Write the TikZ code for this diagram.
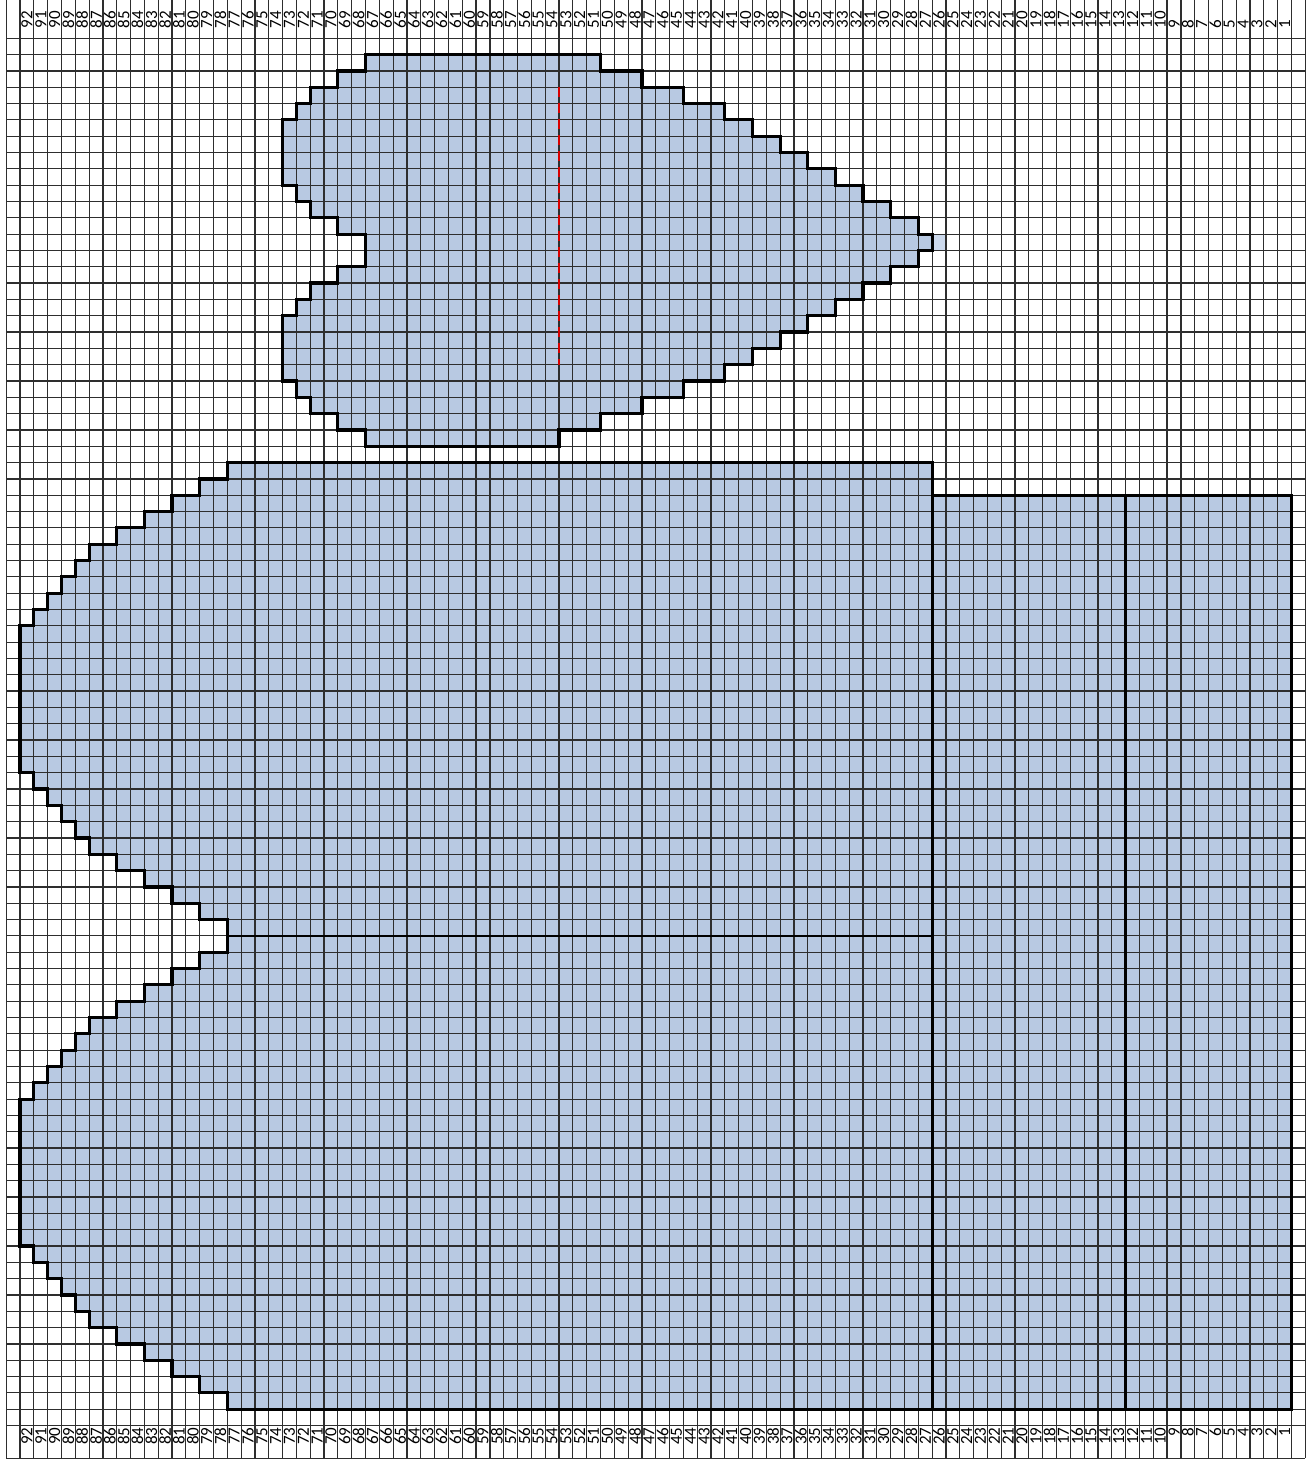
\documentclass[tikz,border=0pt]{standalone}
\usepackage{fontspec}
\newfontfamily\numfont{Carlito}
\definecolor{chartblue}{RGB}{184,201,226}
\definecolor{tipblue}{RGB}{204,217,236}

% start column of each row of the hand top, outer row first
\def\tipcols{16,14,12,10,8,6,5,4,3,2,1,1,1,1,1,1,1,1,1,2,3,4,5,6,8,10,12,14,16}

\newcommand\thumbpath{(26,1) -- (43,1) -- (43,2) -- (46,2) -- (46,3) -- (49,3) -- (49,4) -- (52,4)
  -- (52,5) -- (54,5) -- (54,6) -- (56,6) -- (56,7) -- (58,7) -- (58,8) -- (60,8) -- (60,9)
  -- (62,9) -- (62,10) -- (64,10) -- (64,11) -- (66,11) -- (66,12) -- (67,12) -- (67,13)
  -- (66,13) -- (66,14) -- (64,14) -- (64,15) -- (62,15) -- (62,16) -- (60,16) -- (60,17)
  -- (58,17) -- (58,18) -- (56,18) -- (56,19) -- (54,19) -- (54,20) -- (52,20) -- (52,21)
  -- (49,21) -- (49,22) -- (46,22) -- (46,23) -- (43,23) -- (43,24) -- (40,24) -- (40,25)
  -- (26,25) -- (26,24) -- (24,24) -- (24,23) -- (22,23) -- (22,22) -- (21,22) -- (21,21)
  -- (20,21) -- (20,17) -- (21,17) -- (21,16) -- (22,16) -- (22,15) -- (24,15) -- (24,14)
  -- (26,14) -- (26,12) -- (24,12) -- (24,11) -- (22,11) -- (22,10) -- (21,10) -- (21,9)
  -- (20,9) -- (20,5) -- (21,5) -- (21,4) -- (22,4) -- (22,3) -- (24,3) -- (24,2) -- (26,2) -- cycle}

\newcommand\handpath{(67,26) -- (16,26)
  \foreach \c [count=\k from 0] in \tipcols {-- (\c,26+\k) -- (\c,27+\k)}
  \foreach \c [count=\k from 0] in \tipcols {-- (\c,55+\k) -- (\c,56+\k)}
  -- (67,84) -- cycle}

\begin{document}
\begin{tikzpicture}[x=6.91pt, y=-8.16pt,
    gridline/.style={draw=black!82, line width=0.6pt},
    outline/.style={draw=black, line width=1.6pt, line join=miter},
    colnum/.style={font=\numfont\fontsize{8.5}{9}\selectfont, rotate=90, inner sep=0pt},
    seam/.style={draw=red!85!black, line width=1pt, dash pattern=on 5pt off 3pt}
  ]
  \useasboundingbox (-0.449,-2.347) rectangle (94.2,87.36);

  % knitted areas
  \fill[chartblue] \thumbpath;
  \fill[tipblue] (67,12) rectangle (68,13);
  \fill[chartblue] \handpath;
  \fill[chartblue] (67,28) rectangle (93,84);

  % grid
  \foreach \c in {0,...,94}
    \draw[gridline] (\c,-2.35) -- (\c,87);
  \foreach \r in {0,...,85,87}
    \draw[gridline] (0,\r) -- (94,\r);

  % column numbers
  \foreach \n in {1,...,92} {
    \node[colnum, anchor=west] (top\n) at (93.5-\n,-0.6) {\n};
    \node[colnum, anchor=east] (bot\n) at (93.5-\n,85.1) {\n};
  }

  % outlines
  \draw[outline] \thumbpath;
  \draw[outline] \handpath;
  \draw[outline, line width=1.2pt] (16,55) -- (67,55);
  \draw[outline] (67,28) rectangle (81,84);
  \draw[outline] (81,28) rectangle (93,84);
  \draw[seam] (40,3) -- (40,20);
\end{tikzpicture}
\end{document}
